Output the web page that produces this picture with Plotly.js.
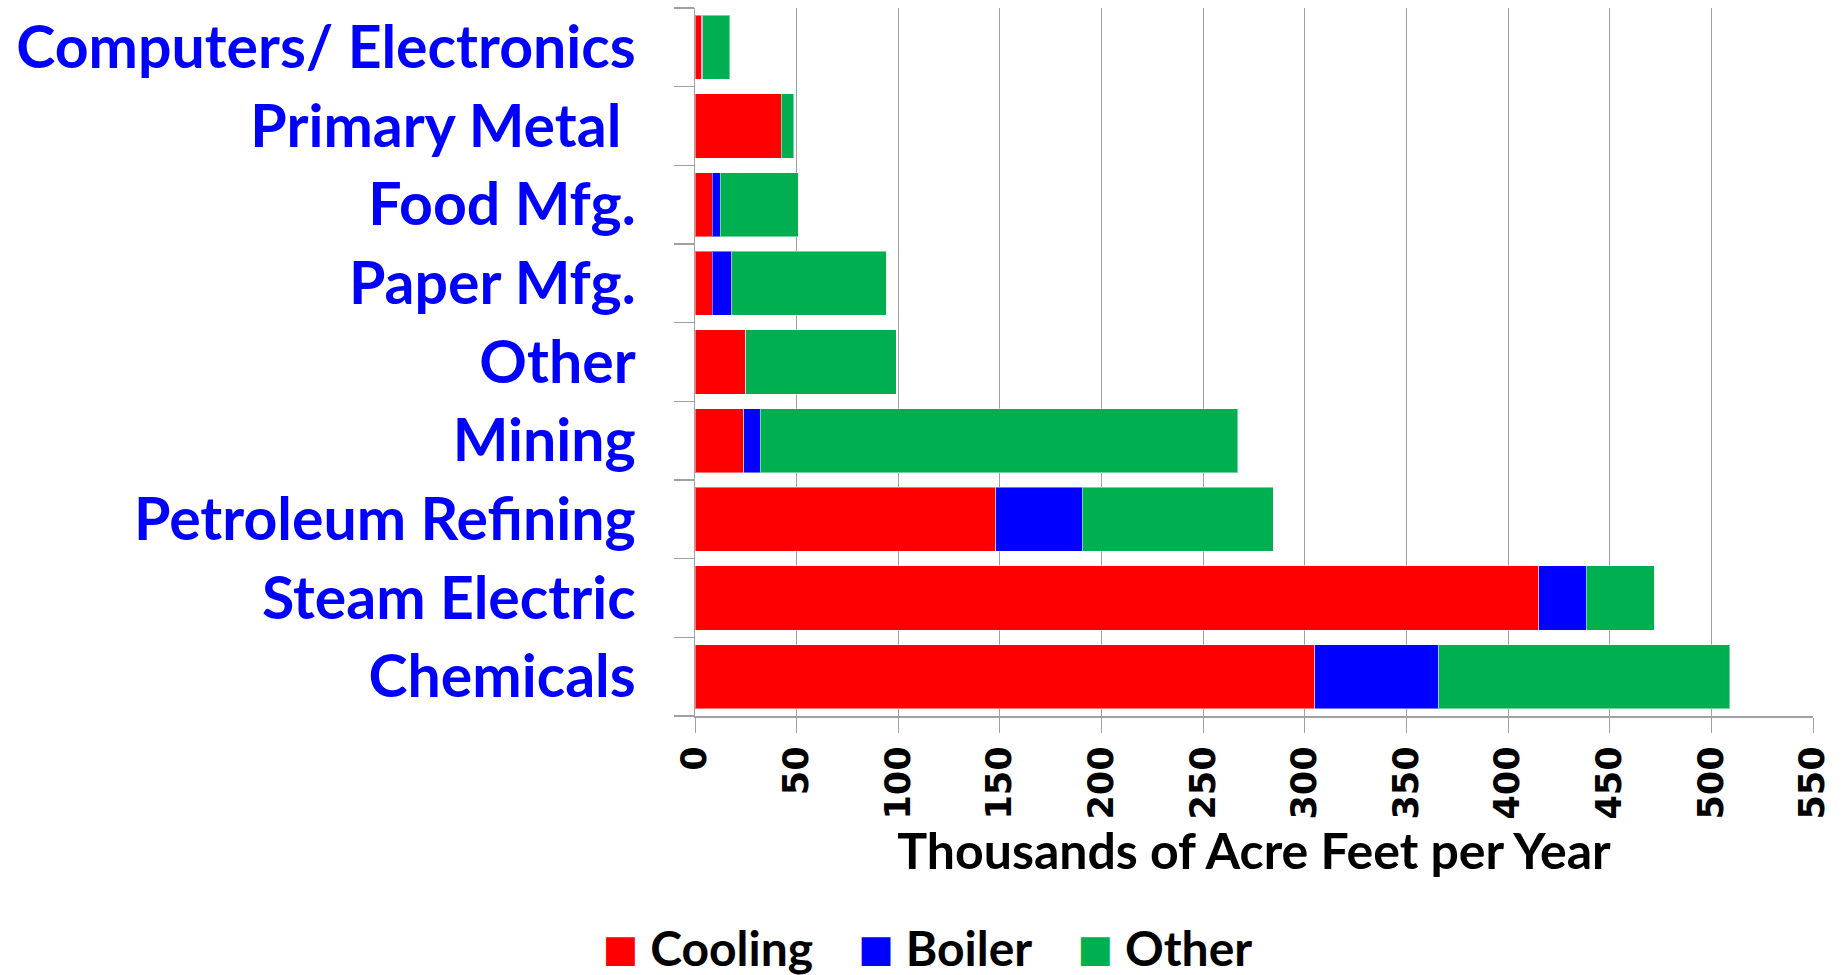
<!DOCTYPE html>
<html>
<head>
<meta charset="utf-8">
<script src="https://cdn.plot.ly/plotly-3.0.1.min.js"></script>
<style>
  html, body { margin: 0; padding: 0; background: #ffffff; }
  #chart { width: 1842px; height: 975px; }
</style>
</head>
<body>
<div id="chart"></div>
<script>
// Categories listed bottom to top (Plotly draws the first category at the bottom)
const categories = [
  "Chemicals",
  "Steam Electric",
  "Petroleum Refining",
  "Mining",
  "Other",
  "Paper Mfg.",
  "Food Mfg.",
  "Primary Metal\u00a0",
  "Computers/ Electronics"
];
const cooling = [305, 415, 148, 24, 25, 8.5, 8.5, 42.5, 3.3];
const boiler  = [61, 23.5, 42.5, 8, 0, 9.5, 4, 0, 0.5];
const other   = [143, 33.5, 94, 235, 74, 76, 38.2, 6.2, 13.3];
const seriesNames = ["Cooling", "Boiler", "Other"];
const seriesColors = ["#FF0000", "#0000FF", "#00B050"];
const xTicks = [0, 50, 100, 150, 200, 250, 300, 350, 400, 450, 500, 550];
const xTitle = "Thousands of Acre Feet per Year";

const seriesValues = [cooling, boiler, other];
const barTraces = seriesValues.map((vals, i) => ({
  type: "bar",
  orientation: "h",
  y: categories,
  x: vals,
  name: seriesNames[i],
  showlegend: false,
  marker: { color: seriesColors[i], line: { color: "rgba(255,255,255,0.45)", width: 1 } },
  hoverinfo: "x+y+name"
}));

// Legend entries with large square glyphs
const legendTraces = seriesNames.map((n, i) => ({
  type: "scatter",
  mode: "none",
  x: [null],
  y: [null],
  name: '<span style="color:' + seriesColors[i] + ';font-family:Noto Sans CJK SC;font-size:36px">\u25A0</span> ' + n,
  showlegend: true,
  hoverinfo: "skip"
}));

const layout = {
  width: 1842,
  height: 975,
  paper_bgcolor: "#ffffff",
  plot_bgcolor: "#ffffff",
  barmode: "stack",
  bargap: 0.183,
  margin: { l: 695, r: 29, t: 8, b: 259, pad: 0 },
  showlegend: true,
  legend: {
    orientation: "h",
    traceorder: "normal",
    xref: "container",
    yref: "container",
    x: 0.494,
    xanchor: "center",
    y: 0.028,
    yanchor: "middle",
    font: { family: "Lato", size: 48, color: "#000000", weight: "bold" },
    itemwidth: 30,
    bgcolor: "rgba(0,0,0,0)"
  },
  xaxis: {
    range: [0, 550],
    tickmode: "array",
    tickvals: xTicks,
    ticktext: xTicks.map(String),
    tickangle: -90,
    ticks: "outside",
    ticklen: 15,
    tickwidth: 1,
    tickcolor: "#A0A0A0",
    showline: true,
    linecolor: "#A0A0A0",
    linewidth: 1.5,
    showgrid: true,
    gridcolor: "#A0A0A0",
    gridwidth: 1,
    zeroline: false,
    tickfont: { family: "DejaVu Sans", size: 35, color: "#000000", weight: "bold" },
    title: {
      text: xTitle,
      font: { family: "Lato", size: 50, color: "#000000", weight: "bold" },
      standoff: 5
    }
  },
  yaxis: {
    type: "category",
    categoryorder: "array",
    categoryarray: categories,
    ticks: "outside",
    tickson: "boundaries",
    ticklen: 20,
    tickwidth: 1.5,
    tickcolor: "#A0A0A0",
    showline: true,
    linecolor: "#A0A0A0",
    linewidth: 1.5,
    showgrid: false,
    zeroline: false,
    ticklabelstandoff: 46,
    tickfont: { family: "Lato", size: 59, color: "#0000FF", weight: "bold" }
  }
};

Plotly.newPlot("chart", barTraces.concat(legendTraces), layout, { displayModeBar: false, staticPlot: true });
</script>
</body>
</html>
